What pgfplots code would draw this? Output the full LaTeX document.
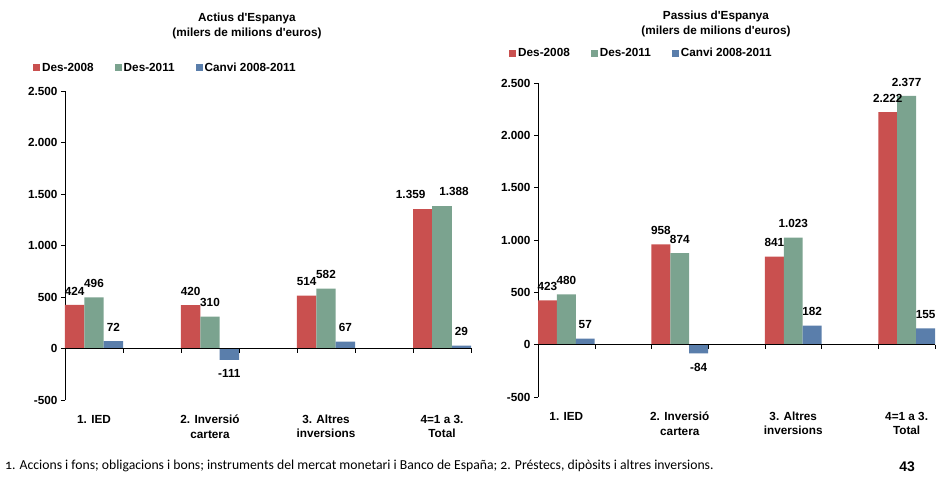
\documentclass[border=0pt]{standalone}
\usepackage{pgfplots}
\pgfplotsset{compat=1.18}
\usepackage{fontspec}
\setmainfont{Liberation Sans}
\newfontfamily\notefont[Numbers=OldStyle]{Carlito}
\definecolor{cred}{HTML}{C9504F}
\definecolor{cgreen}{HTML}{7BA38F}
\definecolor{cblue}{HTML}{5A7EAB}
\newcommand{\lbl}{\fontsize{11.8}{14.5}\selectfont\bfseries}
\pgfplotsset{
  mychart/.style={
    scale only axis,
    clip=false,
    axis y line*=left,
    axis x line*=bottom,
    x axis line style={draw=none},
    xtick style={draw=none},
    ytick style={black, thin},
    tick align=outside,
    major tick length=4bp,
    xmin=0, xmax=3.5,
    ymin=-500, ymax=2500,
    ytick={-500,0,500,1000,1500,2000,2500},
    xtick={0.25,1.25,2.25,3.25},
    xticklabels={1. IED,{2. Inversió\\cartera},{3. Altres\\inversions},{4=1 a 3.\\Total}},
    xticklabel style={align=center, font=\lbl, yshift=-7.5bp},
    yticklabel style={font=\lbl},
    /pgf/number format/.cd, 1000 sep={.}, assume math mode=true, /pgfplots/.cd,
    ybar, bar width=0.1667, bar shift=0pt,
    nodes near coords,
    nodes near coords style={font=\lbl, /pgf/number format/assume math mode=true, /pgf/number format/1000 sep={.}, inner xsep=1pt, inner ysep=9.5bp},
    legend columns=3,
    legend style={draw=none, fill=none, font=\lbl, inner sep=0pt, row sep=0pt,
      /tikz/every even column/.append style={column sep=19bp}},
    legend image code/.code={\path[##1, draw=none] (0bp,-3.5bp) rectangle (7bp,3.5bp);},
    axis line style={black, thin},
  }
}
\begin{document}
\begin{tikzpicture}[x=1bp,y=1bp]
\useasboundingbox (0bp,0bp) rectangle (937bp,490bp);
% Left chart
\begin{axis}[mychart, at={(65bp,90bp)}, anchor=south west, width=406bp, height=309bp,
  legend style={at={(-0.079,1.075)}, anchor=west}]
\addplot[fill=cred, draw=none] coordinates {(0.0833,424) (1.0833,420) (2.0833,514)};
\addplot[fill=cgreen, draw=none] coordinates {(0.25,496) (1.25,310) (2.25,582)};
\addplot[fill=cblue, draw=none] coordinates {(0.4167,72) (1.4167,-111) (2.4167,67) (3.4167,29)};
\legend{Des-2008,Des-2011,Canvi 2008-2011}
\addplot[fill=cred, draw=none, forget plot, every node near coord/.append style={xshift=-12bp}] coordinates {(3.0833,1359)};
\addplot[fill=cgreen, draw=none, forget plot, every node near coord/.append style={xshift=12bp}] coordinates {(3.25,1388)};
\draw[black, thin] (axis cs:0,0) -- (axis cs:3.5,0);
\pgfplotsinvokeforeach{0,0.5,1,1.5,2,2.5,3,3.5}{\draw[black, thin] (axis cs:#1,0) -- (axis cs:#1,-40);}
\end{axis}
% Right chart
\begin{axis}[mychart, at={(538bp,93bp)}, anchor=south west, width=397bp, height=314bp,
  legend style={at={(-0.073,1.0955)}, anchor=west}]
\addplot[fill=cred, draw=none] coordinates {(0.0833,423) (1.0833,958) (2.0833,841) (3.0833,2222)};
\addplot[fill=cgreen, draw=none] coordinates {(0.25,480) (1.25,874) (2.25,1023) (3.25,2377)};
\addplot[fill=cblue, draw=none] coordinates {(0.4167,57) (1.4167,-84) (2.4167,182) (3.4167,155)};
\legend{Des-2008,Des-2011,Canvi 2008-2011}
\draw[black, thin] (axis cs:0,0) -- (axis cs:3.5,0);
\pgfplotsinvokeforeach{0,0.5,1,1.5,2,2.5,3,3.5}{\draw[black, thin] (axis cs:#1,0) -- (axis cs:#1,-40);}
\end{axis}
% Titles
\node[align=center, font=\lbl] at (247bp,464bp) {Actius d\textquotesingle Espanya\\(milers de milions d\textquotesingle euros)};
\node[align=center, font=\lbl] at (716bp,466bp) {Passius d\textquotesingle Espanya\\(milers de milions d\textquotesingle euros)};
% Footnote and page number
\node[anchor=west, font=\notefont\fontsize{13.75}{15}\selectfont, inner sep=0pt] at (5bp,24bp) {1. Accions i fons; obligacions i bons; instruments del mercat monetari i Banco de España; 2. Préstecs, dipòsits i altres inversions.};
\node[font=\fontsize{14}{16}\selectfont\bfseries, inner sep=0pt] at (907bp,23bp) {43};
\end{tikzpicture}
\end{document}
